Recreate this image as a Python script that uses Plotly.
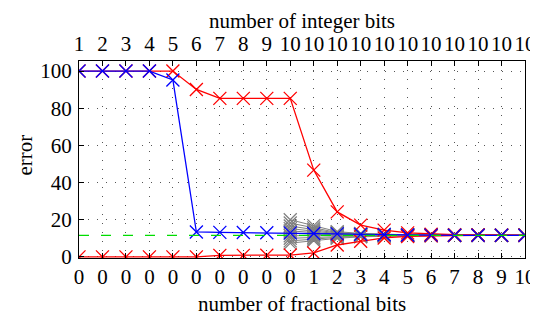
import plotly.graph_objects as go

# ---- data ----
positions = list(range(20))
frac_bits_labels = ["0"] * 10 + [str(i) for i in range(1, 11)]
int_bits_labels = [str(i) for i in range(1, 11)] + ["10"] * 10

red_upper = [100, 100, 100, 100, 100, 90.1, 85.3, 85.3, 85.3, 85.3,
             46.7, 24.2, 17.1, 14.4, 12.9, 12.2, 11.9, 11.8, 11.7, 11.6]
red_lower = [0, 0, 0, 0, 0, 0, 0.8, 0.8, 0.9, 1.0,
             2.1, 6.4, 8.4, 10.2, 11.0, 11.4, 11.5, 11.6, 11.6, 11.6]
blue = [100, 100, 100, 100, 95.2, 13.4, 13.2, 13.1, 13.0, 12.9,
        12.6, 12.4, 12.1, 11.9, 11.8, 11.7, 11.6, 11.6, 11.6, 11.6]
green = [11.6] * 20

gray_x = list(range(9, 20))
gray_series = [
    [20.0, 16.8, 13.6, 12.6, 12.1, 11.9, 11.7, 11.6, 11.6, 11.6, 11.6],
    [18.2, 15.6, 13.1, 12.4, 12.0, 11.8, 11.7, 11.6, 11.6, 11.6, 11.6],
    [16.6, 14.6, 12.8, 12.2, 11.9, 11.7, 11.6, 11.6, 11.6, 11.6, 11.6],
    [15.2, 13.8, 12.5, 12.0, 11.8, 11.7, 11.6, 11.6, 11.6, 11.6, 11.6],
    [14.0, 13.0, 12.2, 11.9, 11.7, 11.6, 11.6, 11.6, 11.6, 11.6, 11.6],
    [12.8, 12.3, 11.9, 11.8, 11.7, 11.6, 11.6, 11.6, 11.6, 11.6, 11.6],
    [11.4, 11.4, 11.5, 11.5, 11.6, 11.6, 11.6, 11.6, 11.6, 11.6, 11.6],
    [10.0, 10.5, 11.0, 11.3, 11.4, 11.5, 11.6, 11.6, 11.6, 11.6, 11.6],
    [8.6, 9.6, 10.5, 11.0, 11.3, 11.5, 11.5, 11.6, 11.6, 11.6, 11.6],
    [7.4, 8.8, 10.0, 10.8, 11.2, 11.4, 11.5, 11.6, 11.6, 11.6, 11.6],
]

top_title = "number of integer bits"
bottom_title = "number of fractional bits"
y_title = "error"

FONT = "Liberation Serif, Times New Roman, serif"
FS = 21
fig = go.Figure()

def xmark(color):
    return dict(symbol="x-thin", size=13, line=dict(color=color, width=1.3), color=color)

for s in gray_series:
    fig.add_trace(go.Scatter(x=gray_x, y=s, mode="lines+markers",
                             line=dict(color="#808080", width=1),
                             marker=xmark("#808080"), showlegend=False))

fig.add_trace(go.Scatter(x=positions, y=red_upper, mode="lines+markers",
                         line=dict(color="#ff0000", width=1.3),
                         marker=xmark("#ff0000"), showlegend=False))
fig.add_trace(go.Scatter(x=positions, y=red_lower, mode="lines+markers",
                         line=dict(color="#ff0000", width=1.3),
                         marker=xmark("#ff0000"), showlegend=False))
fig.add_trace(go.Scatter(x=positions, y=blue, mode="lines+markers",
                         line=dict(color="#0000ff", width=1.3),
                         marker=xmark("#0000ff"), showlegend=False))
fig.add_trace(go.Scatter(x=positions, y=green, mode="lines",
                         line=dict(color="#00dd00", width=1.2, dash="10px,12px"),
                         showlegend=False))
# invisible trace for top axis
fig.add_trace(go.Scatter(x=positions, y=green, xaxis="x2", mode="lines",
                         line=dict(color="rgba(0,0,0,0)"), showlegend=False,
                         hoverinfo="skip"))

axis_common = dict(
    showline=True, linecolor="black", linewidth=1.3,
    ticks="inside", ticklen=5, tickcolor="black", tickwidth=1,
    tickfont=dict(family=FONT, size=FS, color="black"),
    zeroline=False, automargin=False,
)

fig.update_layout(
    width=530, height=313,
    margin=dict(l=71, r=13, t=53, b=63),
    paper_bgcolor="white", plot_bgcolor="white",
    font=dict(family=FONT, size=FS, color="black"),
    xaxis=dict(
        range=[0, 19], tickmode="array", tickvals=positions, ticktext=frac_bits_labels,
        showgrid=True, gridcolor="#555555", gridwidth=1, griddash="1px,8px",
        mirror=True, ticklabeloverflow="allow",
        **axis_common,
    ),
    xaxis2=dict(
        range=[0, 19], tickmode="array", tickvals=positions, ticktext=int_bits_labels,
        overlaying="x", side="top", showgrid=False, ticklabeloverflow="allow",
        **axis_common,
    ),
    yaxis=dict(
        range=[-0.6, 105.4], tickmode="array", tickvals=[0, 20, 40, 60, 80, 100],
        showgrid=True, gridcolor="#555555", gridwidth=1, griddash="1px,8px",
        mirror=True, ticklabelstandoff=2,
        **axis_common,
    ),
    annotations=[
        dict(text=top_title, xref="paper", yref="paper", x=0.5, y=1.205,
             xanchor="center", yanchor="middle", showarrow=False,
             font=dict(family=FONT, size=FS, color="black")),
        dict(text=bottom_title, xref="paper", yref="paper", x=0.5, y=-0.235,
             xanchor="center", yanchor="middle", showarrow=False,
             font=dict(family=FONT, size=FS, color="black")),
        dict(text=y_title, xref="paper", yref="paper", x=-0.121, y=0.52,
             xanchor="center", yanchor="middle", showarrow=False, textangle=-90,
             font=dict(family=FONT, size=FS, color="black")),
    ],
)

fig.write_html("out.html")
